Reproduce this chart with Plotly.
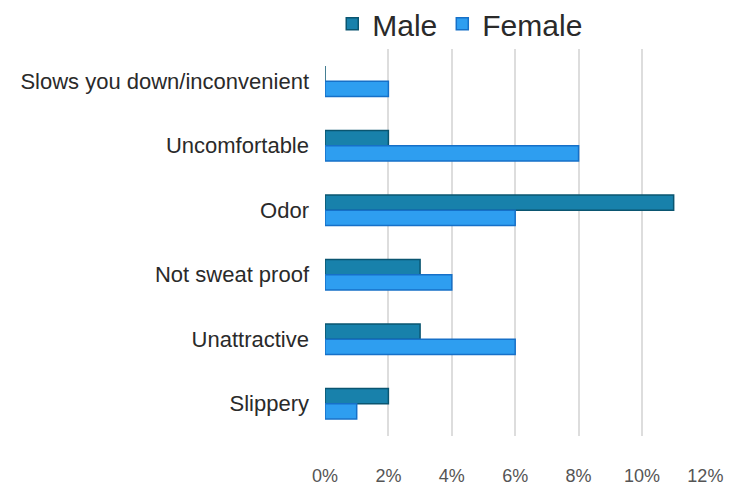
import plotly.graph_objects as go

categories = ["Slows you down/inconvenient", "Uncomfortable", "Odor",
              "Not sweat proof", "Unattractive", "Slippery"]
male = [0, 2, 11, 3, 3, 2]
female = [2, 8, 6, 4, 6, 1]
tick_vals = [0, 2, 4, 6, 8, 10, 12]
tick_text = ["0%", "2%", "4%", "6%", "8%", "10%", "12%"]

FONT = "Liberation Sans"

fig = go.Figure()
fig.add_trace(go.Bar(
    y=categories, x=male, name="Male", orientation="h",
    marker=dict(color="#1881ab", line=dict(color="#0a5570", width=1.5)),
))
fig.add_trace(go.Bar(
    y=categories, x=female, name="Female", orientation="h",
    marker=dict(color="#2e9ef0", line=dict(color="#1670c8", width=1.5)),
))

fig.update_layout(
    width=729, height=491,
    margin=dict(l=325, r=23, t=49, b=55, autoexpand=False),
    paper_bgcolor="white", plot_bgcolor="white",
    barmode="group", bargap=0.53, bargroupgap=0,
    font=dict(family=FONT, color="#2a2a2a"),
    showlegend=True,
    legend=dict(orientation="h", x=0.355, xanchor="center", y=1.065, yanchor="middle",
                font=dict(size=30, color="#2a2a2a", family=FONT), itemwidth=30,
                traceorder="normal", bgcolor="rgba(0,0,0,0)"),
    xaxis=dict(range=[0, 12.02], tickvals=tick_vals, ticktext=tick_text,
               showgrid=True, gridcolor="#dddddd", gridwidth=2,
               zeroline=False, showline=False,
               tickfont=dict(size=18, color="#555555", family=FONT), ticklabelstandoff=27),
    yaxis=dict(autorange="reversed", showgrid=False, showline=False,
               tickfont=dict(size=22, color="#2a2a2a", family=FONT), ticklabelstandoff=15),
)

fig.write_html("out.html")
